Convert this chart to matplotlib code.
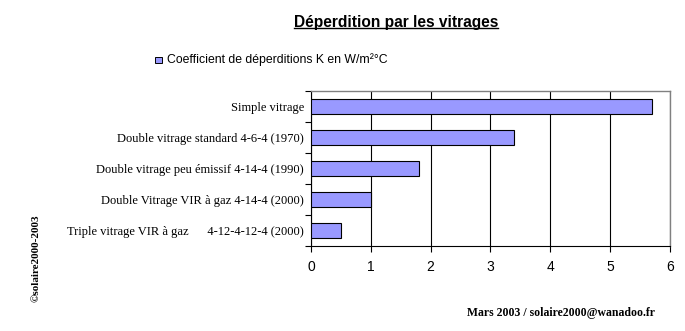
import matplotlib
matplotlib.use("Agg")
import matplotlib.pyplot as plt
from matplotlib.lines import Line2D
from matplotlib.patches import Rectangle

categories = [
    "Simple vitrage",
    "Double vitrage standard 4-6-4 (1970)",
    "Double vitrage peu émissif 4-14-4 (1990)",
    "Double Vitrage VIR à gaz 4-14-4 (2000)",
    "Triple vitrage VIR à gaz      4-12-4-12-4 (2000)",
]
k_values = [5.7, 3.4, 1.8, 1.0, 0.5]
x_ticks = [0, 1, 2, 3, 4, 5, 6]

bar_color = "#9999ff"

fig = plt.figure(figsize=(6.85, 3.31), dpi=100)
ax = fig.add_axes([311 / 685, 1 - 246 / 331, 359 / 685, 155 / 331])

pos = list(range(len(categories)))
ax.barh(pos, k_values, height=0.5, color=bar_color, edgecolor="black", linewidth=0.8, zorder=3)
ax.set_ylim(len(categories) - 0.5, -0.5)
ax.set_xlim(0, 6)
ax.set_xticks(x_ticks)
ax.set_xticklabels([str(t) for t in x_ticks], fontfamily="Liberation Sans", fontsize=10)
ax.set_yticks([p + 0.5 for p in pos[:-1]] + [-0.5, len(categories) - 0.5], minor=False)
ax.set_yticklabels([])
ax.set_yticks(pos, minor=True)
ax.set_yticklabels(categories, minor=True, fontfamily="Liberation Serif", fontsize=9)
ax.tick_params(axis="y", which="minor", length=0, pad=5)
ax.tick_params(axis="y", which="major", length=4, direction="out", width=0.8)
ax.tick_params(axis="x", length=4, direction="out", width=0.8, pad=6)
ax.grid(axis="x", color="black", linewidth=0.8, zorder=0)
for side in ("top", "right"):
    ax.spines[side].set_color("#808080")
    ax.spines[side].set_linewidth(1.0)
for side in ("left", "bottom"):
    ax.spines[side].set_color("black")
    ax.spines[side].set_linewidth(0.8)

# title with underline
title = fig.text(396 / 685, 1 - 22 / 331, "Déperdition par les vitrages", ha="center", va="center",
                 fontfamily="Liberation Sans", fontweight="bold", fontsize=11.2)
fig.canvas.draw()
bb = title.get_window_extent().transformed(fig.transFigure.inverted())
fig.add_artist(Line2D([bb.x0, bb.x1], [bb.y0 + 0.004, bb.y0 + 0.004], color="black", linewidth=1.0,
                      transform=fig.transFigure))

# legend
fig.add_artist(Rectangle((155 / 685, 1 - 63 / 331), 7 / 685, 6 / 331, facecolor=bar_color,
                         edgecolor="black", linewidth=0.7, transform=fig.transFigure))
fig.text(167 / 685, 1 - 60 / 331, "Coefficient de déperditions K en W/m²°C", ha="left", va="center",
         fontfamily="Liberation Sans", fontsize=8.8)

fig.text(36 / 685, 1 - 258 / 331, "©solaire2000-2003", rotation=90, ha="center", va="center",
         fontfamily="Liberation Serif", fontweight="bold", fontsize=8)
fig.text(655 / 685, 1 - 313 / 331, "Mars 2003 / solaire2000@wanadoo.fr", ha="right", va="center",
         fontfamily="Liberation Serif", fontweight="bold", fontsize=8.5)

fig.savefig("out.png", dpi=100)
